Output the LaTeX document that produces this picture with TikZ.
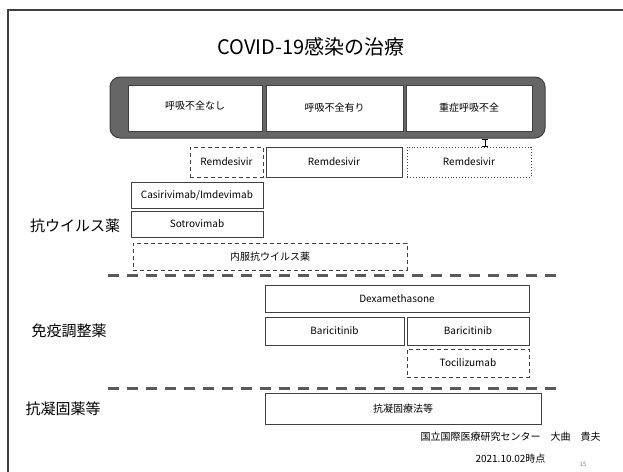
\documentclass[tikz,border=0pt]{standalone}
\usepackage{fontspec}
\setmainfont{Noto Sans CJK JP}
\usetikzlibrary{arrows.meta}
\definecolor{edge}{HTML}{404040}
\definecolor{bandfill}{HTML}{666666}
\definecolor{sepline}{HTML}{5A5A5A}
\tikzset{
  boxbase/.style={rectangle, inner sep=0pt, font=\fontsize{10}{12}\selectfont, text=black},
  solidbox/.style={boxbase, draw=edge, line width=0.9pt, fill=white},
  dashbox/.style={boxbase, draw=edge, line width=0.9pt, dash pattern=on 4pt off 3pt},
  dotbox/.style={boxbase, draw=edge, line width=0.9pt, dotted},
  sep/.style={draw=sepline, line width=3pt, dash pattern=on 11pt off 8pt},
  grouplabel/.style={font=\fontsize{15}{18}\selectfont, inner sep=0pt},
}
\begin{document}
\begin{tikzpicture}[x=1pt,y=-1pt]
\useasboundingbox (0,0) rectangle (623,471);
% frame
\draw[line width=1.6pt, draw=edge] (8,480) |- (640,10);
% title
\node[font=\fontsize{20}{24}\selectfont, inner sep=0pt] (title) at (311,47) {COVID-19感染の治療};
% severity band
\node[rectangle, rounded corners=10pt, fill=bandfill, draw=edge, line width=1pt, minimum width=435, minimum height=61] (band) at (327.5,107.5) {};
\node[solidbox, minimum width=134, minimum height=46] (h1) at (195,108) {\raisebox{5pt}{呼吸不全なし}};
\node[solidbox, minimum width=137, minimum height=46] (h2) at (334.5,108) {呼吸不全有り};
\node[solidbox, minimum width=126, minimum height=46] (h3) at (469,108) {重症呼吸不全};
% antivirals
\node[dashbox, minimum width=73, minimum height=30] (rem1) at (226.5,162) {Remdesivir};
\node[solidbox, minimum width=136, minimum height=30] (rem2) at (334,162) {Remdesivir};
\node[dotbox, minimum width=124, minimum height=30] (rem3) at (469,162) {Remdesivir};
\coordinate (tick) at (485,0);
\draw[line width=1pt, draw=black, {Bar[width=6pt]}-{Bar[width=6pt]}] (band.south -| tick) -- (rem3.north -| tick);
\node[solidbox, minimum width=132, minimum height=26] (casi) at (197,195) {Casirivimab/Imdevimab};
\node[solidbox, minimum width=132, minimum height=26] (sotro) at (197,224) {Sotrovimab};
\node[dashbox, minimum width=274, minimum height=27] (oral) at (270,256.5) {内服抗ウイルス薬};
\node[grouplabel] (lab1) at (75,226) {抗ウイルス薬};
\coordinate (s1a) at (108,275);
\coordinate (s1b) at (562,275);
\draw[sep] (s1a) -- (s1b);
% immunomodulators
\node[solidbox, minimum width=264, minimum height=27] (dexa) at (397,298.5) {Dexamethasone};
\node[solidbox, minimum width=139, minimum height=28] (bari1) at (334.5,331) {Baricitinib};
\node[solidbox, minimum width=122, minimum height=28] (bari2) at (468,331) {Baricitinib};
\node[dashbox, minimum width=122, minimum height=28] (toci) at (468,363) {Tocilizumab};
\node[grouplabel] (lab2) at (69,331) {免疫調整薬};
\coordinate (s2a) at (108,388);
\coordinate (s2b) at (562,388);
\draw[sep] (s2a) -- (s2b);
% anticoagulants
\node[solidbox, minimum width=276, minimum height=31] (antico) at (403,408.5) {抗凝固療法等};
\node[grouplabel] (lab3) at (63,409) {抗凝固薬等};
% footer
\node[font=\fontsize{10}{12}\selectfont, inner sep=0pt] (f1) at (510.5,437) {国立国際医療研究センター　大曲　貴夫};
\node[font=\fontsize{10}{12}\selectfont, inner sep=0pt] (f2) at (510.5,459) {2021.10.02時点};
\node[font=\fontsize{6}{7}\selectfont, text=gray, inner sep=0pt] (pg) at (583,464) {15};
\end{tikzpicture}
\end{document}
